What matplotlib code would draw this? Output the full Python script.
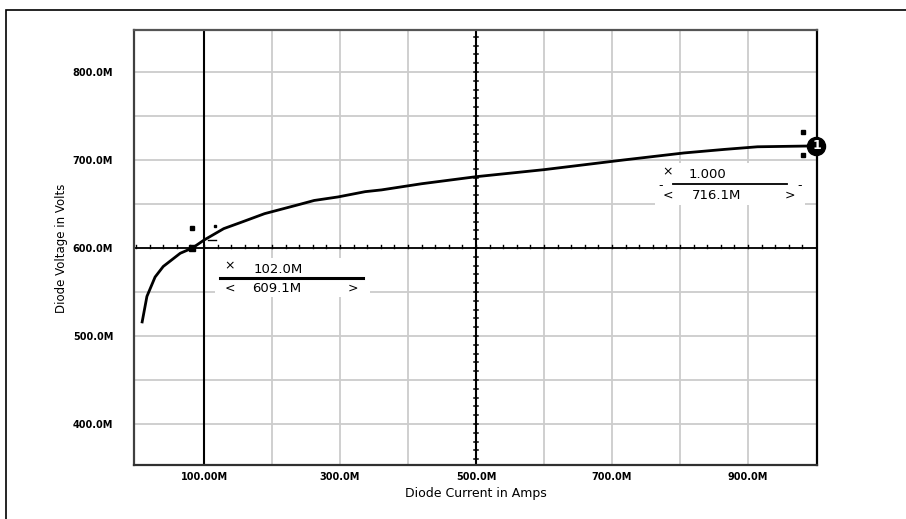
import numpy as np
import matplotlib
matplotlib.use('agg')
import matplotlib.pyplot as plt
from matplotlib.patches import Rectangle

# curve (amps, volts)
current = [0.009, 0.016, 0.028, 0.040, 0.065, 0.083, 0.100, 0.129, 0.154, 0.189,
           0.238, 0.262, 0.297, 0.337, 0.361, 0.420, 0.500, 0.600, 0.717, 0.806,
           0.865, 0.914, 1.000]
voltage = [0.516, 0.545, 0.567, 0.579, 0.594, 0.600, 0.609, 0.622, 0.629, 0.639,
           0.649, 0.654, 0.658, 0.664, 0.666, 0.673, 0.681, 0.689, 0.700, 0.708,
           0.712, 0.715, 0.716]

xtick_vals = [0.1, 0.3, 0.5, 0.7, 0.9]
xtick_labels = ['100.00M', '300.0M', '500.0M', '700.0M', '900.0M']
ytick_vals = [0.4, 0.5, 0.6, 0.7, 0.8]
ytick_labels = ['400.0M', '500.0M', '600.0M', '700.0M', '800.0M']

# cursors
cur1_x, cur1_y = 0.102, 0.6091
cur2_x, cur2_y = 1.000, 0.7161
cross_x, cross_y = 0.1, 0.6
mid_x = 0.5

fig = plt.figure(figsize=(9.06, 5.19), dpi=100)
ax = fig.add_axes([134/906, 1 - 465/519, (817 - 134)/906, (465 - 30)/519])
ax.set_xlim(-0.003, 1.0015)
ax.set_ylim(0.3534, 0.8477)

# outer frame (only top and left visible in the crop)
fig.add_artist(Rectangle((6/906, -0.1), 1.2, 0.1 + 1 - 10/519, transform=fig.transFigure,
                         fill=False, edgecolor='black', lw=1.2))

# grid
for gx in np.arange(0.1, 1.0, 0.1):
    ax.axvline(gx, color='#cccccc', lw=1.3, zorder=0)
for gy in np.arange(0.4, 0.85, 0.05):
    ax.axhline(gy, color='#cccccc', lw=1.3, zorder=0)

# crosshair lines
ax.axvline(cross_x, color='black', lw=1.5, zorder=2)
ax.axhline(cross_y, color='black', lw=1.3, zorder=2)
ax.axvline(mid_x, color='black', lw=1.5, zorder=2)
# tick marks on cursor lines
for tx in np.arange(0.0, 1.0, 0.02):
    ax.plot([tx, tx], [cross_y, cross_y + 0.0035], color='black', lw=1.0, zorder=2)
for ty in np.arange(0.36, 0.85, 0.01):
    ax.plot([mid_x - 0.0035, mid_x + 0.0035], [ty, ty], color='black', lw=1.1, zorder=2)

# curve
ax.plot(current, voltage, color='black', lw=2.0, zorder=4)

# cursor markers
ax.plot([0.082], [0.5997], 's', color='black', ms=4, zorder=5)
ax.plot([0.082], [0.623], 's', color='black', ms=2.5, zorder=5)
ax.plot([0.106, 0.118], [0.6095, 0.6095], color='black', lw=1, zorder=5)
ax.plot([0.116], [0.625], 's', color='black', ms=2, zorder=5)
ax.plot([0.981, 0.981], [0.7318, 0.7057], 's', color='black', ms=2.5, zorder=5)
ax.plot([cur2_x], [cur2_y], 'o', color='black', ms=13, clip_on=False, zorder=6)
ax.text(cur2_x + 0.002, cur2_y, '1', color='white', fontsize=9, fontweight='bold',
        ha='center', va='center', clip_on=False, zorder=7)

# readout boxes
ax.add_patch(Rectangle((0.116, 0.5443), 0.228, 0.0443, facecolor='white', edgecolor='none', zorder=3))
ax.text(0.138, 0.5795, '×', fontsize=9, ha='center', va='center', zorder=5)
ax.text(0.209, 0.5755, '102.0M', fontsize=9.5, ha='center', va='center', zorder=5)
ax.plot([0.1235, 0.334], [0.5663, 0.5663], color='black', lw=2.2, zorder=5)
ax.text(0.138, 0.5545, '<', fontsize=9, ha='center', va='center', zorder=5)
ax.text(0.207, 0.5545, '609.1M', fontsize=9.5, ha='center', va='center', zorder=5)
ax.text(0.319, 0.5545, '>', fontsize=9, ha='center', va='center', zorder=5)

ax.add_patch(Rectangle((0.763, 0.6489), 0.221, 0.0477, facecolor='white', edgecolor='none', zorder=3))
ax.text(0.782, 0.687, '×', fontsize=9, ha='center', va='center', zorder=5)
ax.text(0.841, 0.683, '1.000', fontsize=9.5, ha='center', va='center', zorder=5)
ax.plot([0.790, 0.957], [0.6727, 0.6727], color='black', lw=1.3, zorder=5)
ax.text(0.771, 0.6715, '-', fontsize=9, ha='center', va='center', zorder=5)
ax.text(0.976, 0.6715, '-', fontsize=9, ha='center', va='center', zorder=5)
ax.text(0.782, 0.6602, '<', fontsize=9, ha='center', va='center', zorder=5)
ax.text(0.854, 0.6602, '716.1M', fontsize=9.5, ha='center', va='center', zorder=5)
ax.text(0.962, 0.6602, '>', fontsize=9, ha='center', va='center', zorder=5)

# axes styling
ax.set_xticks(xtick_vals)
ax.set_xticklabels(xtick_labels, fontsize=7, fontweight='bold')
ax.set_yticks(ytick_vals)
ax.set_yticklabels(ytick_labels, fontsize=7, fontweight='bold')
ax.tick_params(axis='x', length=0, pad=5)
ax.tick_params(axis='y', length=0, pad=15)
ax.spines['left'].set_color('#404040')
ax.spines['top'].set_color('#555555')
ax.spines['right'].set_color('black')
ax.spines['bottom'].set_color('#303030')
for s in ax.spines.values():
    s.set_linewidth(1.6)

fig.text(476/906, 1 - 494/519, 'Diode Current in Amps', fontsize=9, ha='center', va='center')
fig.text(61/906, 1 - 248/519, 'Diode Voltage in Volts', fontsize=8.5, rotation=90,
         ha='center', va='center')

fig.savefig('out.png', dpi=100)
